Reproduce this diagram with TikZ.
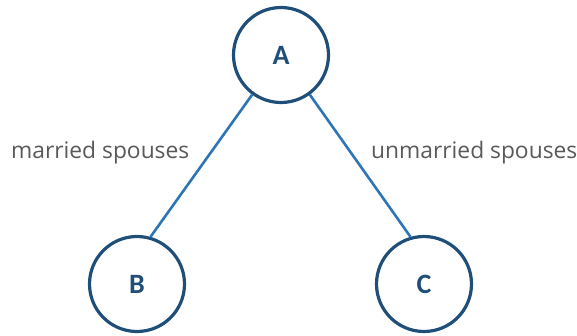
\documentclass[tikz,border=0pt]{standalone}
\usepackage{fontspec}
\setmainfont{Carlito}
\newfontfamily\labelfont{Open Sans}
\definecolor{ringblue}{HTML}{1F4E79}
\definecolor{lineblue}{HTML}{2E75B6}
\definecolor{labelgray}{HTML}{595959}
\begin{document}
\begin{tikzpicture}[x=1pt,y=-1pt,
  person/.style={circle,draw=ringblue,line width=3.2pt,minimum size=95pt,inner sep=0pt,
    text=ringblue,font=\fontsize{28}{30}\selectfont\bfseries},
  link/.style={draw=lineblue,line width=2.6pt},
  lbl/.style={text=labelgray,font=\labelfont\fontsize{22.8}{26}\selectfont,inner sep=0pt,anchor=west}]
\useasboundingbox (0,0) rectangle (577,335);
\node[person] (A) at (281,55) {A};
\node[person] (B) at (137,284) {B};
\node[person] (C) at (424,284) {C};
\draw[link] (A.234) -- (B.74);
\draw[link] (A.306) -- (C.106);
\node[lbl] (m) at (11,153) {married spouses};
\node[lbl] (u) at (371,153) {unmarried spouses};
\end{tikzpicture}
\end{document}
